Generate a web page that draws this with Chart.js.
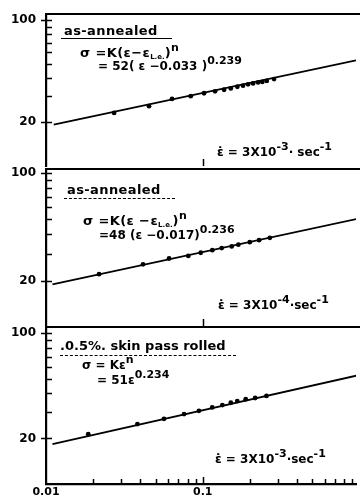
<!DOCTYPE html>
<html><head><meta charset="utf-8">
<script src="https://cdn.jsdelivr.net/npm/chart.js@4.4.1/dist/chart.umd.min.js"></script>
<style>
html,body{margin:0;padding:0;background:#fff;}
#wrap{position:relative;width:360px;height:498px;overflow:hidden;background:#fff;}
canvas{position:absolute;left:0;}
.t{position:absolute;font-family:"DejaVu Sans",sans-serif;font-weight:bold;font-size:12px;color:#000;white-space:nowrap;line-height:12px;}
.big{font-size:13px;letter-spacing:0.4px;}
.sp{display:inline-block;font-size:11px;position:relative;top:-6px;letter-spacing:0;}
.sb{display:inline-block;font-size:7px;position:relative;top:2px;letter-spacing:0;}
.u{position:absolute;height:0;border-top:1.5px solid #000;}
.ud{position:absolute;height:0;border-top:1.5px dashed #000;}
</style></head>
<body><div id="wrap">
<canvas id="c1" width="360" height="170" style="top:0px;width:360px;height:170px"></canvas>
<canvas id="c2" width="360" height="170" style="top:160px;width:360px;height:170px"></canvas>
<canvas id="c3" width="360" height="178" style="top:320px;width:360px;height:178px"></canvas>

<div class="t big" style="left:64px;top:25px">as-annealed</div>
<div class="u" style="left:61px;top:38px;width:111px"></div>
<div class="t big" style="left:80px;top:47px">σ =K(ε−ε<span class="sb">L.e.</span>)<span class="sp">n</span></div>
<div class="t" style="left:98px;top:60px">= 52( ε −0.033 )<span class="sp">0.239</span></div>
<div class="t" style="left:217px;top:146px">ε̇ = 3X10<span class="sp">-3</span>· sec<span class="sp">-1</span></div>

<div class="t big" style="left:67px;top:184px">as-annealed</div>
<div class="ud" style="left:64px;top:198px;width:111px"></div>
<div class="t big" style="left:83px;top:215px">σ =K(ε −ε<span class="sb">L.e.</span>)<span class="sp">n</span></div>
<div class="t" style="left:99px;top:229px">=48 (ε −0.017)<span class="sp">0.236</span></div>
<div class="t" style="left:218px;top:299px">ε̇ = 3X10<span class="sp">-4</span>·sec<span class="sp">-1</span></div>

<div class="t big" style="left:60px;top:340px;letter-spacing:0">.0.5%. skin pass rolled</div>
<div class="ud" style="left:60px;top:355px;width:176px"></div>
<div class="t" style="left:82px;top:359px">σ = Kε<span class="sp">n</span></div>
<div class="t" style="left:97px;top:374px">= 51ε<span class="sp">0.234</span></div>
<div class="t" style="left:215px;top:453px">ε̇ = 3X10<span class="sp">-3</span>·sec<span class="sp">-1</span></div>
</div>
<script>
// ---- data (strain ε on x, stress σ on y, log-log) ----
const strainTickValues = [0.01, 0.1];
const strainTickLabels = ['0.01', '0.1'];
const strainMinorTicks = [0.02,0.03,0.04,0.05,0.06,0.07,0.08,0.09,0.1,0.2,0.3,0.4,0.5,0.6,0.7,0.8,0.9];
const stressTickValues = [20, 100];
const stressTickLabels = ['20', '100'];
const stressMinorTicks = [20,30,40,50,60,70,80,90,100];

// panel 1: as-annealed, 3x10^-3 /s
const p1Strain = [0.0272,0.0454,0.0637,0.0838,0.1019,0.1198,0.1368,0.151,0.1663,0.1807,0.1945,0.2094,0.2254,0.240,0.256,0.285];
const p1Stress = [23.1,25.7,28.8,30.1,31.5,32.5,33.3,34.0,34.9,35.5,36.3,36.8,37.4,37.7,38.3,39.4];
const p1FitStrain = [0.0112, 0.95];
const p1FitStress = [19.2, 52.9];

// panel 2: as-annealed, 3x10^-4 /s
const p2Strain = [0.0218,0.0416,0.061,0.0809,0.0971,0.1151,0.1321,0.153,0.1687,0.1995,0.2287,0.268];
const p2Stress = [22.1,25.6,27.9,29.0,30.4,31.6,32.6,33.4,34.3,35.6,36.7,38.0];
const p2FitStrain = [0.0110, 0.97];
const p2FitStress = [19.0, 50.4];

// panel 3: 0.5% skin pass rolled, 3x10^-3 /s
const p3Strain = [0.0186,0.0383,0.0566,0.076,0.0946,0.115,0.1334,0.151,0.166,0.188,0.216,0.255];
const p3Stress = [21.3,24.9,27.0,29.0,30.5,32.1,33.3,34.5,35.4,36.4,37.1,38.3];
const p3FitStrain = [0.0110, 0.99];
const p3FitStress = [18.3, 52.7];

const FONT = {family: 'DejaVu Sans', weight: 'bold', size: 12};

const tickPlugin = {
  id: 'panelTicks',
  afterDraw(chart, args, o) {
    const {ctx, chartArea: a} = chart;
    const x = chart.scales.x, y = chart.scales.y;
    ctx.save();
    ctx.strokeStyle = '#000';
    ctx.lineWidth = 2.2;
    ctx.beginPath(); ctx.moveTo(a.left - 1, a.top); ctx.lineTo(chart.width, a.top); ctx.stroke();
    ctx.lineWidth = 1.5;
    ctx.beginPath();
    stressMinorTicks.forEach(v => {
      const py = Math.round(y.getPixelForValue(v)) + 0.5;
      const major = stressTickValues.includes(v);
      ctx.moveTo(a.left - (major ? 5 : 0), py);
      ctx.lineTo(a.left + 6, py);
    });
    o.xTicks.forEach(v => {
      const px = Math.round(x.getPixelForValue(v)) + 0.5;
      const len = v === 0.1 ? 7 : 5;
      ctx.moveTo(px, a.bottom);
      ctx.lineTo(px, a.bottom - len);
    });
    ctx.stroke();
    ctx.restore();
  }
};

function makePanel(id, sx, sy, fx, fy, yMin, yMax, pad, showX, xTicks) {
  new Chart(document.getElementById(id), {
    type: 'scatter',
    data: {
      datasets: [
        {data: fx.map((v, i) => ({x: v, y: fy[i]})), showLine: true, borderColor: '#000', borderWidth: 1.8, pointRadius: 0, order: 2},
        {data: sx.map((v, i) => ({x: v, y: sy[i]})), showLine: false, backgroundColor: '#000', borderColor: '#000', pointRadius: 2.4, pointBorderWidth: 0, order: 1}
      ]
    },
    options: {
      responsive: false, animation: false, events: [],
      layout: {padding: pad},
      plugins: {legend: {display: false}, tooltip: {enabled: false}, panelTicks: {xTicks: xTicks}},
      scales: {
        x: {
          type: 'logarithmic', min: 0.01, max: 0.95, display: showX,
          grid: {display: false, drawTicks: false},
          border: {display: true, color: '#000', width: 2.2},
          afterBuildTicks: s => { s.ticks = strainTickValues.map(v => ({value: v})); },
          afterFit: s => { if (showX) { s.height = 14; } s.paddingLeft = 0; s.paddingRight = 0; },
          ticks: {color: '#000', font: {family: 'DejaVu Sans', weight: 'bold', size: 11}, padding: 2, maxRotation: 0, autoSkip: false,
                  callback: v => { const i = strainTickValues.indexOf(v); return i >= 0 ? strainTickLabels[i] : ''; }}
        },
        y: {
          type: 'logarithmic', min: yMin, max: yMax,
          grid: {display: false, drawTicks: false},
          border: {display: true, color: '#000', width: 2.2},
          afterBuildTicks: s => { s.ticks = stressTickValues.map(v => ({value: v})); },
          afterFit: s => { s.width = 46; s.paddingTop = 0; s.paddingBottom = 0; },
          ticks: {color: '#000', font: FONT, padding: 10, autoSkip: false,
                  callback: v => { const i = stressTickValues.indexOf(v); return i >= 0 ? stressTickLabels[i] : ''; }}
        }
      }
    },
    plugins: [tickPlugin]
  });
}

makePanel('c1', p1Strain, p1Stress, p1FitStrain, p1FitStress, 10, 110, {top: 14, bottom: 2, left: 0, right: 3}, false, [0.1]);
makePanel('c2', p2Strain, p2Stress, p2FitStrain, p2FitStress, 10.2, 106, {top: 9, bottom: 3, left: 0, right: 3}, false, [0.1]);
makePanel('c3', p3Strain, p3Stress, p3FitStrain, p3FitStress, 9.95, 110, {top: 7, bottom: 0, left: 0, right: 3}, true, strainMinorTicks);
</script>
</body></html>
